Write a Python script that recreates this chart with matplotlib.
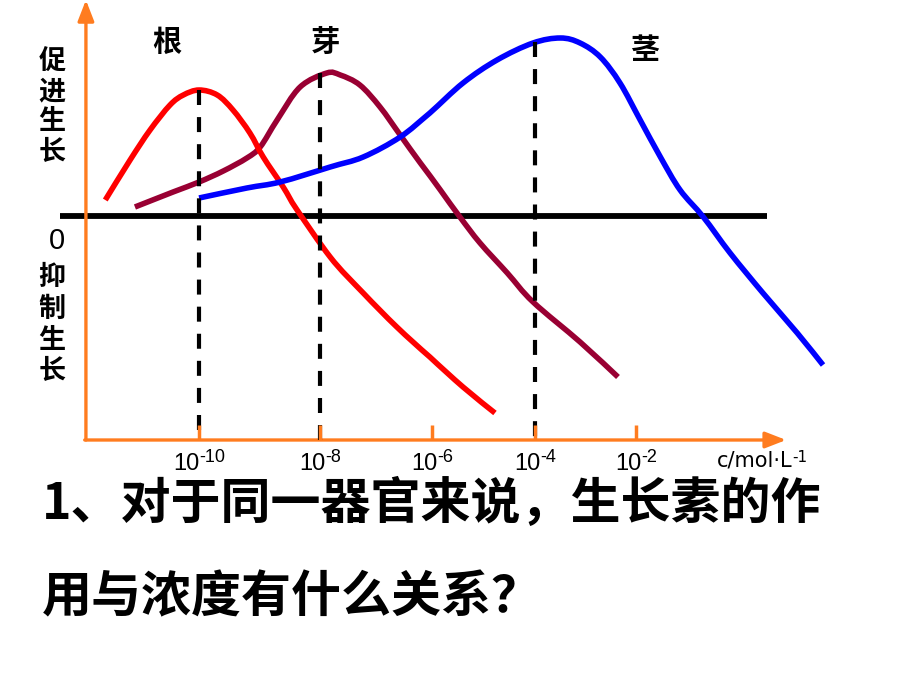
import numpy as np
import matplotlib
matplotlib.use('Agg')
import matplotlib.pyplot as plt
from matplotlib.path import Path
from matplotlib.patches import PathPatch
from matplotlib.offsetbox import TextArea, HPacker, VPacker, DrawingArea, AnnotationBbox

plt.rcParams['font.family'] = ['Noto Sans CJK SC', 'DejaVu Sans']

# ---------------- data ----------------
tick_exponents = [-10, -8, -6, -4, -2]
tick_base = '10'
tick_sups = ['-10', '-8', '-6', '-4', '-2']
unit_base = 'c/mol·L'
unit_sup = '-1'

# root (根) response vs log10 concentration
root_x = [-11.55, -11.14, -10.81, -10.48, -10.26, -10.0, -9.70, -9.44, -9.16,
          -8.94, -8.61, -8.38, -7.82, -7.23, -6.63, -6.04, -5.40, -4.78]
root_y = [0.16, 0.56, 0.86, 1.11, 1.21, 1.26, 1.21, 1.06, 0.83,
          0.59, 0.29, 0.06, -0.41, -0.77, -1.11, -1.41, -1.71, -1.97]

# bud (芽)
bud_x = [-11.06, -10.43, -10.0, -9.60, -9.21, -8.99, -8.71, -8.33, -7.88,
         -7.64, -7.29, -6.93, -6.57, -6.21, -5.84, -5.46, -5.07, -4.54,
         -4.04, -3.11, -2.36]
bud_y = [0.09, 0.24, 0.34, 0.45, 0.58, 0.69, 0.96, 1.29, 1.43,
         1.41, 1.31, 1.09, 0.81, 0.53, 0.26, -0.01, -0.27, -0.57,
         -0.86, -1.26, -1.61]

# stem (茎)
stem_x = [-10.0, -9.21, -8.66, -7.82, -7.23, -6.57, -6.04, -5.40, -4.74,
          -4.04, -3.50, -3.11, -2.71, -2.32, -1.92, -1.52, -1.13, -0.67,
          -0.14, 0.51, 1.19, 1.70]
stem_y = [0.18, 0.28, 0.34, 0.49, 0.59, 0.79, 1.03, 1.33, 1.56,
          1.73, 1.78, 1.73, 1.59, 1.33, 0.96, 0.59, 0.26, -0.01,
          -0.37, -0.77, -1.17, -1.49]

# optimum concentrations (dashed guide lines)
optimum_x = [-10, -8, -4]
optimum_y = [1.26, 1.43, 1.74]

organ_labels = ['根', '芽', '茎']
promote_label = ['促', '进', '生', '长']
inhibit_label = ['抑', '制', '生', '长']
question_lines = ['1、对于同一器官来说，生长素的作', '用与浓度有什么关系？']

# ---------------- styling ----------------
W, H = 920, 690
ORANGE = '#FF7C1F'
RED = '#FF0000'
MAROON = '#990033'
BLUE = '#0000FF'

# axis warp (uneven tick spacing of the original drawing)
knot_e = [-20, -10, -8, -6, -4, -2, 10]
knot_p = [-406, 199, 320, 432, 535, 636, 1242]


def fwd(x):
    return np.interp(x, knot_e, knot_p)


def inv(p):
    return np.interp(p, knot_p, knot_e)


fig = plt.figure(figsize=(W / 100, H / 100), dpi=100)
fig.patch.set_facecolor('white')
ax = fig.add_axes([0, 0, 1, 1])
ax.set_xscale('function', functions=(fwd, inv))
ax.set_xlim(-13.29, 3.62)
ax.set_ylim(-4.74, 2.16)
ax.axis('off')


def smooth_curve(xs, ys, **kw):
    pts = np.column_stack([xs, ys]).astype(float)
    n = len(pts)
    verts = [pts[0]]
    codes = [Path.MOVETO]
    for i in range(n - 1):
        p0 = pts[i - 1] if i > 0 else pts[i]
        p1 = pts[i]
        p2 = pts[i + 1]
        p3 = pts[i + 2] if i + 2 < n else pts[i + 1]
        verts += [p1 + (p2 - p0) / 6.0, p2 - (p3 - p1) / 6.0, p2]
        codes += [Path.CURVE4] * 3
    ax.add_patch(PathPatch(Path(verts, codes), fill=False, **kw))


x_axis_y = -2.24
y_axis_x = -11.87

# zero line
ax.plot([-12.30, 0.59], [0, 0], color='black', lw=4.2, solid_capstyle='butt', zorder=2)

# orange axes with arrows
arrow_kw = dict(arrowstyle='-|>,head_length=0.9,head_width=0.35',
                color=ORANGE, lw=2.4, shrinkA=0, shrinkB=0, mutation_scale=14)
ax.annotate('', xy=(y_axis_x, 2.16), xytext=(y_axis_x, x_axis_y),
            arrowprops=arrow_kw, zorder=3)
ax.annotate('', xy=(0.97, x_axis_y), xytext=(y_axis_x - 0.02, x_axis_y),
            arrowprops=arrow_kw, zorder=3)

# curves
smooth_curve(bud_x, bud_y, edgecolor=MAROON, lw=4.0, capstyle='butt', zorder=4)
smooth_curve(root_x, root_y, edgecolor=RED, lw=4.0, capstyle='butt', zorder=5)
smooth_curve(stem_x, stem_y, edgecolor=BLUE, lw=4.0, capstyle='butt', zorder=6)

# dashed optimum lines
for ox, oy in zip(optimum_x, optimum_y):
    ax.plot([ox, ox], [oy, x_axis_y], color='black', lw=3.0,
            dashes=(3.6, 2.9), dash_capstyle='butt', zorder=7)

# orange tick marks
ax.vlines(tick_exponents, x_axis_y, x_axis_y + 0.15, color=ORANGE, lw=2.5, zorder=8)


def sup_label(x, y, base, sup, fs, sfs, family, base_drop):
    ta = TextArea(base, textprops=dict(fontsize=fs, family=family, color='black'))
    if base_drop > 0:
        ta = VPacker(children=[DrawingArea(0.1, base_drop), ta], align='left', pad=0, sep=0)
    tb = TextArea(sup, textprops=dict(fontsize=sfs, family=family, color='black'))
    box = HPacker(children=[ta, tb], align='top', pad=0, sep=0)
    ab = AnnotationBbox(box, (x, y), xycoords='data', box_alignment=(0.5, 1.0),
                        frameon=False, pad=0, zorder=9)
    ax.add_artist(ab)


# tick labels
for te, ts in zip(tick_exponents, tick_sups):
    sup_label(te, -2.33, tick_base, ts, 17, 13, 'Liberation Sans', 2.9)
sup_label(0.50, -2.34, unit_base, unit_sup, 15, 11, 'DejaVu Sans', 0)


def ptext(px, py, s, **kw):
    fig.text(px / W, 1 - py / H, s, **kw)


# organ labels
for (px, py), s in zip([(167, 42), (325, 42), (645, 50)], organ_labels):
    ptext(px, py, s, ha='center', va='center', fontsize=21, fontweight='bold')

# vertical side labels
for py, s in zip([62, 91, 121, 152], promote_label):
    ptext(52, py, s, ha='center', va='center', fontsize=19.5, fontweight='bold')
for py, s in zip([277, 309, 340, 371], inhibit_label):
    ptext(52, py, s, ha='center', va='center', fontsize=19.5, fontweight='bold')
ptext(57, 241, '0', ha='center', va='center', fontsize=21, family='Liberation Sans')

# question text
ptext(42, 505, question_lines[0], ha='left', va='center', fontsize=36, fontweight='black')
ptext(42, 598, question_lines[1], ha='left', va='center', fontsize=36, fontweight='black')

fig.savefig('out.png', dpi=100)
